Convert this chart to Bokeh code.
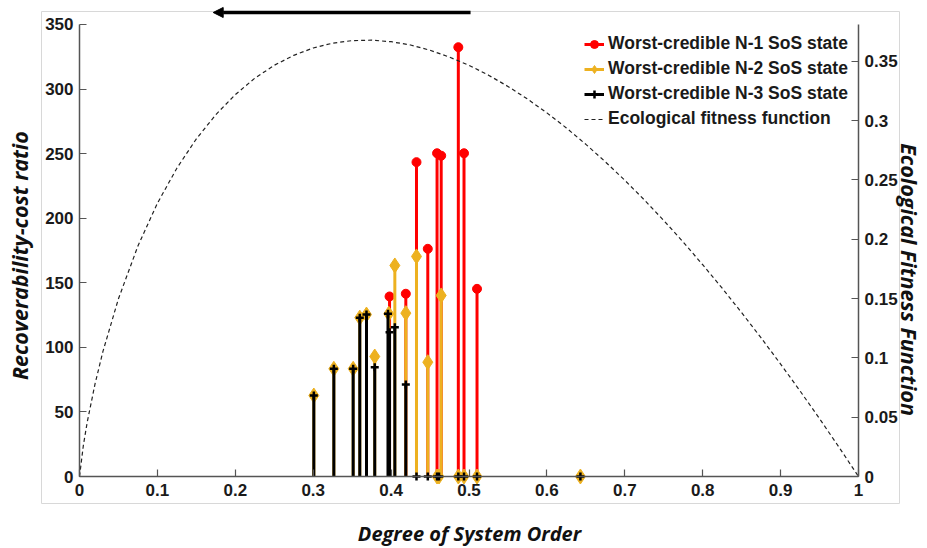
from math import pi
from bokeh.plotting import figure
from bokeh.models import (Range1d, LinearAxis, FixedTicker, NumeralTickFormatter,
                          Legend, LegendItem, Arrow, NormalHead, BoxAnnotation, Label)
from bokeh.embed import file_html
from bokeh.resources import INLINE

# ---- data ----
n1_x = [0.398, 0.4189, 0.4326, 0.4471, 0.459, 0.4643, 0.4863, 0.4936, 0.5103]
n1_y = [139.4, 141.5, 243.4, 176.3, 250.3, 248.4, 332.4, 250.3, 145.3]

n2_x = [0.3008, 0.3265, 0.3513, 0.3598, 0.3684, 0.379, 0.397, 0.4048, 0.4189,
        0.4326, 0.4471, 0.459, 0.4615, 0.4643, 0.4863, 0.4936, 0.5103, 0.643]
n2_y = [62.7, 83.4, 83.4, 123.0, 125.4, 92.9, 126.0, 163.4, 126.5,
        170.4, 88.5, 0, 0, 140.2, 0, 0, 0, 0]

n3_x = [0.3008, 0.3265, 0.3513, 0.3598, 0.3684, 0.379, 0.396, 0.398, 0.4048,
        0.4189, 0.4326, 0.4471, 0.459, 0.4615, 0.4863, 0.4936, 0.5103, 0.643]
n3_y = [62.7, 83.4, 83.4, 122.9, 125.4, 84.6, 126.0, 111.7, 115.6,
        71.2, 0, 0, 0, 0, 0, 0, 0, 0]

fit_x = [0, 0.005, 0.01, 0.02, 0.03, 0.05, 0.075, 0.1, 0.125, 0.15, 0.175, 0.2,
         0.225, 0.25, 0.275, 0.3, 0.325, 0.35, 0.375, 0.4, 0.425, 0.45, 0.475,
         0.5, 0.525, 0.55, 0.575, 0.6, 0.625, 0.65, 0.675, 0.7, 0.725, 0.75,
         0.775, 0.8, 0.825, 0.85, 0.875, 0.9, 0.925, 0.95, 0.975, 1.0]
fit_y = [0, 0.0265, 0.0461, 0.0782, 0.1052, 0.1498, 0.1943, 0.2303, 0.2599,
         0.2846, 0.3050, 0.3219, 0.3357, 0.3466, 0.3550, 0.3612, 0.3653, 0.3674,
         0.3678, 0.3665, 0.3637, 0.3593, 0.3535, 0.3466, 0.3383, 0.3288, 0.3182,
         0.3065, 0.2938, 0.2800, 0.2653, 0.2497, 0.2332, 0.2158, 0.1976, 0.1785,
         0.1587, 0.1381, 0.1168, 0.0948, 0.0721, 0.0487, 0.0247, 0]

x_ticks = [0, 0.1, 0.2, 0.3, 0.4, 0.5, 0.6, 0.7, 0.8, 0.9, 1.0]
y_ticks = [0, 50, 100, 150, 200, 250, 300, 350]
y2_ticks = [0, 0.05, 0.1, 0.15, 0.2, 0.25, 0.3, 0.35]

# direction arrow (data coords, drawn above the 350 line)
arrow_x = [0.502, 0.1716]
arrow_y = 359.3

labels = ["Worst-credible N-1 SoS state", "Worst-credible N-2 SoS state",
          "Worst-credible N-3 SoS state", "Ecological fitness function"]
x_title = "Degree of System Order"
y_title = "Recoverability-cost ratio"
y2_title = "Ecological Fitness Function"

RED = "#FF0000"
YEL = "#EDB120"
BLK = "#000000"
AXC = "#555555"
TXT = "#1a1a1a"

X_LIM = (0, 1)
Y_LIM = (0, 350)
Y2_LIM = (0, 0.381)
# the frame covers the whole canvas; the axes sit at fixed data locations
X_VIEW = (-0.101412, 1.088575)
Y_VIEW = (-55.752, 368.584)
Y2_VIEW = (-0.060690, 0.401231)

p = figure(width=927, height=548, output_backend="svg", toolbar_location=None,
           x_range=Range1d(*X_VIEW), y_range=Range1d(*Y_VIEW),
           min_border_left=0, min_border_right=0, min_border_top=0,
           min_border_bottom=0)
p.outline_line_color = None
p.xgrid.visible = False
p.ygrid.visible = False
p.extra_y_ranges = {"fit": Range1d(*Y2_VIEW)}

# outer light box
p.add_layout(BoxAnnotation(left=41, right=899, top=11, bottom=503,
                           left_units="canvas", right_units="canvas",
                           top_units="canvas", bottom_units="canvas",
                           fill_alpha=0, line_color="#d8d8d8", line_alpha=1.0,
                           line_width=1))

# stems
r1s = p.segment(x0=n1_x, y0=[0] * len(n1_x), x1=n1_x, y1=n1_y, line_color=RED, line_width=3)
r1m = p.scatter(n1_x, n1_y, marker="circle", size=9, fill_color=RED, line_color=RED)
r2s = p.segment(x0=n2_x, y0=[0] * len(n2_x), x1=n2_x, y1=n2_y, line_color=YEL, line_width=3)
r2m = p.scatter(n2_x, n2_y, marker="diamond", size=15, fill_color=YEL, line_color=YEL)
r3s = p.segment(x0=n3_x, y0=[0] * len(n3_x), x1=n3_x, y1=n3_y, line_color=BLK, line_width=3)
r3m = p.scatter(n3_x, n3_y, marker="cross", size=8, line_color=BLK, line_width=2.5)

r4 = p.line(fit_x, fit_y, y_range_name="fit", line_color="#222222", line_width=1.2,
            line_dash="4 3")

p.add_layout(Arrow(end=NormalHead(size=10, fill_color="black", line_color="black"),
                   x_start=arrow_x[0], y_start=arrow_y, x_end=arrow_x[1], y_end=arrow_y,
                   line_width=3.5, line_color="black"))

def style_axis(ax, ticks, fmt, standoff):
    ax.ticker = FixedTicker(ticks=ticks)
    ax.formatter = NumeralTickFormatter(format=fmt)
    ax.major_tick_in = 7
    ax.major_tick_out = 0
    ax.minor_tick_line_color = None
    ax.axis_line_color = AXC
    ax.axis_line_width = 1.5
    ax.major_tick_line_color = AXC
    ax.major_tick_line_width = 1.2
    ax.major_label_text_font = "Liberation Sans"
    ax.major_label_text_font_style = "bold"
    ax.major_label_text_font_size = "17px"
    ax.major_label_text_color = TXT
    ax.major_label_standoff = standoff

xa = p.xaxis[0]
style_axis(xa, x_ticks, "0.[0]", 7)
xa.bounds = X_LIM
xa.fixed_location = Y_LIM[0]

ya = p.yaxis[0]
style_axis(ya, y_ticks, "0", 6)
ya.bounds = Y_LIM
ya.fixed_location = X_LIM[0]

ax2 = LinearAxis(y_range_name="fit")
style_axis(ax2, y2_ticks, "0.[00]", 6)
ax2.bounds = Y2_LIM
ax2.fixed_location = X_LIM[1]
p.add_layout(ax2, "right")

# axis titles
def title(text, x, y, angle, size):
    p.add_layout(Label(x=x, y=y, text=text, angle=angle, text_font="Open Sans",
                       text_font_style="bold italic", text_font_size=size,
                       text_color="#111111", text_align="center",
                       text_baseline="middle"))

title(x_title, 0.50064, -44.14, 0, "20px")
title(y_title, -0.07702, 171.0, pi / 2, "21.5px")
title(y2_title, 1.06547, 152.5, -pi / 2, "21.5px")

legend = Legend(items=[
    LegendItem(label=labels[0], renderers=[r1s, r1m]),
    LegendItem(label=labels[1], renderers=[r2s, r2m]),
    LegendItem(label=labels[2], renderers=[r3s, r3m]),
    LegendItem(label=labels[3], renderers=[r4]),
], location=(584, 419))
legend.label_text_font = "Liberation Sans"
legend.label_text_font_style = "bold"
legend.label_text_font_size = "17.5px"
legend.label_text_color = TXT
legend.border_line_color = None
legend.background_fill_alpha = 0
legend.glyph_width = 20
legend.glyph_height = 20
legend.label_height = 20
legend.spacing = 4
legend.padding = 0
legend.margin = 0
legend.label_standoff = 4
p.add_layout(legend)

open("out.html", "w").write(file_html(p, INLINE))
